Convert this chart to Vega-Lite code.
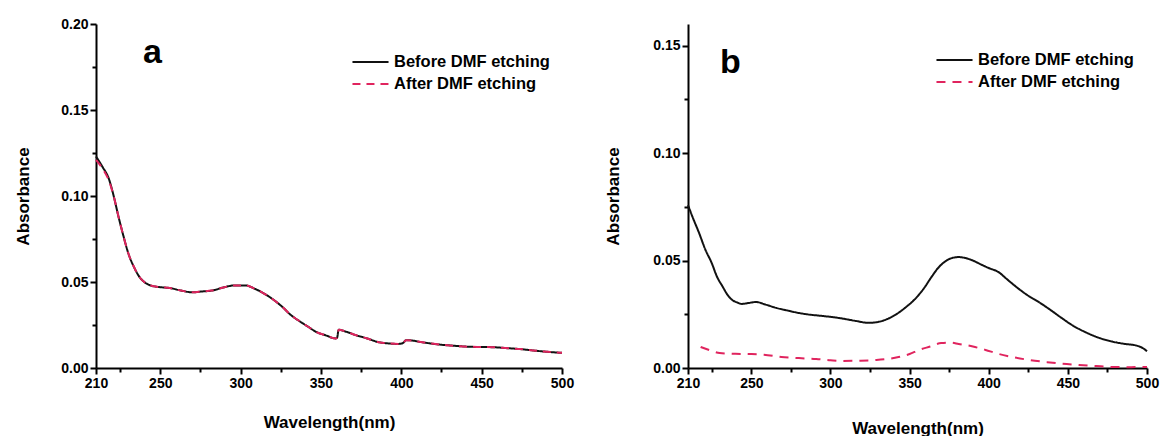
{
  "$schema": "https://vega.github.io/schema/vega-lite/v6.json",
  "background": "white",
  "padding": {"left": 14, "top": 17, "right": 5, "bottom": 0},
  "spacing": 30,
  "config": {
    "font": "Liberation Sans",
    "view": {"stroke": null},
    "axis": {
      "domainColor": "black", "domainWidth": 2, "tickColor": "black", "tickWidth": 2,
      "labelFont": "Liberation Sans", "labelFontWeight": "bold", "labelFontSize": 14, "labelColor": "black",
      "titleFont": "Liberation Sans", "titleFontWeight": "bold", "titleFontSize": 17, "titleColor": "black",
      "grid": false, "labelOverlap": false, "labelFlush": false
    },
    "legend": {
      "orient": "none", "title": null, "labelFont": "Liberation Sans", "labelFontSize": 16.5, "labelFontWeight": "bold",
      "labelColor": "black", "symbolType": "stroke", "symbolSize": 1300, "symbolStrokeWidth": 2,
      "rowPadding": 5, "labelOffset": 4, "clipHeight": 16
    },
    "title": {"anchor": "start", "frame": "group", "fontSize": 34, "fontWeight": "bold", "font": "Liberation Sans", "color": "black"}
  },
  "datasets": {
    "a": [
      {"w":210,"A":0.123,"s":"Before DMF etching"},{"w":214,"A":0.117,"s":"Before DMF etching"},{"w":218,"A":0.110,"s":"Before DMF etching"},{"w":221,"A":0.100,"s":"Before DMF etching"},{"w":224,"A":0.088,"s":"Before DMF etching"},{"w":227,"A":0.077,"s":"Before DMF etching"},{"w":230,"A":0.067,"s":"Before DMF etching"},{"w":234,"A":0.058,"s":"Before DMF etching"},{"w":237,"A":0.053,"s":"Before DMF etching"},{"w":240,"A":0.050,"s":"Before DMF etching"},{"w":244,"A":0.048,"s":"Before DMF etching"},{"w":250,"A":0.047,"s":"Before DMF etching"},{"w":256,"A":0.0465,"s":"Before DMF etching"},{"w":263,"A":0.045,"s":"Before DMF etching"},{"w":270,"A":0.044,"s":"Before DMF etching"},{"w":276,"A":0.0445,"s":"Before DMF etching"},{"w":282,"A":0.045,"s":"Before DMF etching"},{"w":290,"A":0.047,"s":"Before DMF etching"},{"w":296,"A":0.048,"s":"Before DMF etching"},{"w":303,"A":0.048,"s":"Before DMF etching"},{"w":309,"A":0.046,"s":"Before DMF etching"},{"w":314,"A":0.0436,"s":"Before DMF etching"},{"w":320,"A":0.040,"s":"Before DMF etching"},{"w":326,"A":0.0355,"s":"Before DMF etching"},{"w":331,"A":0.031,"s":"Before DMF etching"},{"w":337,"A":0.027,"s":"Before DMF etching"},{"w":342,"A":0.024,"s":"Before DMF etching"},{"w":347,"A":0.021,"s":"Before DMF etching"},{"w":353,"A":0.019,"s":"Before DMF etching"},{"w":359,"A":0.0172,"s":"Before DMF etching"},{"w":360,"A":0.0175,"s":"Before DMF etching"},{"w":361,"A":0.0222,"s":"Before DMF etching"},{"w":366,"A":0.021,"s":"Before DMF etching"},{"w":372,"A":0.019,"s":"Before DMF etching"},{"w":378,"A":0.0174,"s":"Before DMF etching"},{"w":386,"A":0.015,"s":"Before DMF etching"},{"w":392,"A":0.0143,"s":"Before DMF etching"},{"w":398,"A":0.014,"s":"Before DMF etching"},{"w":401,"A":0.0145,"s":"Before DMF etching"},{"w":403,"A":0.0162,"s":"Before DMF etching"},{"w":408,"A":0.0158,"s":"Before DMF etching"},{"w":412,"A":0.0151,"s":"Before DMF etching"},{"w":418,"A":0.0143,"s":"Before DMF etching"},{"w":424,"A":0.0136,"s":"Before DMF etching"},{"w":432,"A":0.013,"s":"Before DMF etching"},{"w":441,"A":0.0124,"s":"Before DMF etching"},{"w":450,"A":0.0122,"s":"Before DMF etching"},{"w":457,"A":0.0121,"s":"Before DMF etching"},{"w":465,"A":0.0116,"s":"Before DMF etching"},{"w":474,"A":0.011,"s":"Before DMF etching"},{"w":482,"A":0.0102,"s":"Before DMF etching"},{"w":491,"A":0.0094,"s":"Before DMF etching"},{"w":500,"A":0.0088,"s":"Before DMF etching"},
      {"w":210,"A":0.121,"s":"After DMF etching"},{"w":214,"A":0.116,"s":"After DMF etching"},{"w":218,"A":0.109,"s":"After DMF etching"},{"w":221,"A":0.100,"s":"After DMF etching"},{"w":224,"A":0.088,"s":"After DMF etching"},{"w":227,"A":0.077,"s":"After DMF etching"},{"w":230,"A":0.067,"s":"After DMF etching"},{"w":234,"A":0.058,"s":"After DMF etching"},{"w":237,"A":0.053,"s":"After DMF etching"},{"w":240,"A":0.050,"s":"After DMF etching"},{"w":244,"A":0.048,"s":"After DMF etching"},{"w":250,"A":0.047,"s":"After DMF etching"},{"w":256,"A":0.0465,"s":"After DMF etching"},{"w":263,"A":0.045,"s":"After DMF etching"},{"w":270,"A":0.044,"s":"After DMF etching"},{"w":276,"A":0.0445,"s":"After DMF etching"},{"w":282,"A":0.045,"s":"After DMF etching"},{"w":290,"A":0.047,"s":"After DMF etching"},{"w":296,"A":0.048,"s":"After DMF etching"},{"w":303,"A":0.048,"s":"After DMF etching"},{"w":309,"A":0.046,"s":"After DMF etching"},{"w":314,"A":0.0436,"s":"After DMF etching"},{"w":320,"A":0.040,"s":"After DMF etching"},{"w":326,"A":0.0355,"s":"After DMF etching"},{"w":331,"A":0.031,"s":"After DMF etching"},{"w":337,"A":0.027,"s":"After DMF etching"},{"w":342,"A":0.024,"s":"After DMF etching"},{"w":347,"A":0.021,"s":"After DMF etching"},{"w":353,"A":0.019,"s":"After DMF etching"},{"w":359,"A":0.0172,"s":"After DMF etching"},{"w":360,"A":0.0175,"s":"After DMF etching"},{"w":361,"A":0.0222,"s":"After DMF etching"},{"w":366,"A":0.021,"s":"After DMF etching"},{"w":372,"A":0.019,"s":"After DMF etching"},{"w":378,"A":0.0174,"s":"After DMF etching"},{"w":386,"A":0.015,"s":"After DMF etching"},{"w":392,"A":0.0143,"s":"After DMF etching"},{"w":398,"A":0.014,"s":"After DMF etching"},{"w":401,"A":0.0145,"s":"After DMF etching"},{"w":403,"A":0.0162,"s":"After DMF etching"},{"w":408,"A":0.0158,"s":"After DMF etching"},{"w":412,"A":0.0151,"s":"After DMF etching"},{"w":418,"A":0.0143,"s":"After DMF etching"},{"w":424,"A":0.0136,"s":"After DMF etching"},{"w":432,"A":0.013,"s":"After DMF etching"},{"w":441,"A":0.0124,"s":"After DMF etching"},{"w":450,"A":0.0122,"s":"After DMF etching"},{"w":457,"A":0.0121,"s":"After DMF etching"},{"w":465,"A":0.0116,"s":"After DMF etching"},{"w":474,"A":0.011,"s":"After DMF etching"},{"w":482,"A":0.0102,"s":"After DMF etching"},{"w":491,"A":0.0094,"s":"After DMF etching"},{"w":500,"A":0.0088,"s":"After DMF etching"}
    ],
    "b": [
      {"w":210,"A":0.0758,"s":"Before DMF etching"},{"w":213,"A":0.070,"s":"Before DMF etching"},{"w":217,"A":0.0628,"s":"Before DMF etching"},{"w":221,"A":0.055,"s":"Before DMF etching"},{"w":225,"A":0.0488,"s":"Before DMF etching"},{"w":228,"A":0.043,"s":"Before DMF etching"},{"w":232,"A":0.0377,"s":"Before DMF etching"},{"w":235,"A":0.034,"s":"Before DMF etching"},{"w":238,"A":0.0316,"s":"Before DMF etching"},{"w":241,"A":0.0305,"s":"Before DMF etching"},{"w":244,"A":0.0298,"s":"Before DMF etching"},{"w":248,"A":0.0302,"s":"Before DMF etching"},{"w":253,"A":0.0307,"s":"Before DMF etching"},{"w":259,"A":0.0295,"s":"Before DMF etching"},{"w":266,"A":0.0279,"s":"Before DMF etching"},{"w":273,"A":0.0267,"s":"Before DMF etching"},{"w":280,"A":0.0256,"s":"Before DMF etching"},{"w":287,"A":0.0248,"s":"Before DMF etching"},{"w":295,"A":0.0242,"s":"Before DMF etching"},{"w":305,"A":0.0233,"s":"Before DMF etching"},{"w":316,"A":0.0219,"s":"Before DMF etching"},{"w":324,"A":0.021,"s":"Before DMF etching"},{"w":330,"A":0.0214,"s":"Before DMF etching"},{"w":336,"A":0.0228,"s":"Before DMF etching"},{"w":342,"A":0.0252,"s":"Before DMF etching"},{"w":348,"A":0.0285,"s":"Before DMF etching"},{"w":354,"A":0.0325,"s":"Before DMF etching"},{"w":359,"A":0.037,"s":"Before DMF etching"},{"w":364,"A":0.0425,"s":"Before DMF etching"},{"w":368,"A":0.0465,"s":"Before DMF etching"},{"w":373,"A":0.0498,"s":"Before DMF etching"},{"w":377,"A":0.0512,"s":"Before DMF etching"},{"w":381,"A":0.0516,"s":"Before DMF etching"},{"w":385,"A":0.0512,"s":"Before DMF etching"},{"w":390,"A":0.050,"s":"Before DMF etching"},{"w":395,"A":0.0482,"s":"Before DMF etching"},{"w":400,"A":0.0465,"s":"Before DMF etching"},{"w":406,"A":0.0447,"s":"Before DMF etching"},{"w":412,"A":0.041,"s":"Before DMF etching"},{"w":419,"A":0.0368,"s":"Before DMF etching"},{"w":425,"A":0.0336,"s":"Before DMF etching"},{"w":432,"A":0.0305,"s":"Before DMF etching"},{"w":439,"A":0.027,"s":"Before DMF etching"},{"w":446,"A":0.0233,"s":"Before DMF etching"},{"w":453,"A":0.0198,"s":"Before DMF etching"},{"w":461,"A":0.0167,"s":"Before DMF etching"},{"w":469,"A":0.0142,"s":"Before DMF etching"},{"w":478,"A":0.0123,"s":"Before DMF etching"},{"w":486,"A":0.0112,"s":"Before DMF etching"},{"w":493,"A":0.0105,"s":"Before DMF etching"},{"w":497,"A":0.0094,"s":"Before DMF etching"},{"w":500,"A":0.0078,"s":"Before DMF etching"},
      {"w":218,"A":0.0098,"s":"After DMF etching"},{"w":224,"A":0.0082,"s":"After DMF etching"},{"w":230,"A":0.007,"s":"After DMF etching"},{"w":240,"A":0.0066,"s":"After DMF etching"},{"w":249,"A":0.0065,"s":"After DMF etching"},{"w":258,"A":0.0062,"s":"After DMF etching"},{"w":269,"A":0.0051,"s":"After DMF etching"},{"w":280,"A":0.0046,"s":"After DMF etching"},{"w":291,"A":0.0042,"s":"After DMF etching"},{"w":300,"A":0.0036,"s":"After DMF etching"},{"w":307,"A":0.0033,"s":"After DMF etching"},{"w":318,"A":0.0034,"s":"After DMF etching"},{"w":329,"A":0.0037,"s":"After DMF etching"},{"w":337,"A":0.0043,"s":"After DMF etching"},{"w":343,"A":0.0051,"s":"After DMF etching"},{"w":350,"A":0.0065,"s":"After DMF etching"},{"w":356,"A":0.0084,"s":"After DMF etching"},{"w":363,"A":0.010,"s":"After DMF etching"},{"w":370,"A":0.0116,"s":"After DMF etching"},{"w":376,"A":0.0118,"s":"After DMF etching"},{"w":381,"A":0.0112,"s":"After DMF etching"},{"w":390,"A":0.010,"s":"After DMF etching"},{"w":398,"A":0.0084,"s":"After DMF etching"},{"w":406,"A":0.0066,"s":"After DMF etching"},{"w":415,"A":0.0051,"s":"After DMF etching"},{"w":425,"A":0.0038,"s":"After DMF etching"},{"w":436,"A":0.0028,"s":"After DMF etching"},{"w":446,"A":0.002,"s":"After DMF etching"},{"w":457,"A":0.0014,"s":"After DMF etching"},{"w":468,"A":0.0009,"s":"After DMF etching"},{"w":478,"A":0.0005,"s":"After DMF etching"},{"w":490,"A":0.0004,"s":"After DMF etching"},{"w":500,"A":0.0005,"s":"After DMF etching"}
    ]
  },
  "hconcat": [
    {
      "width": 466, "height": 344,
      "title": {"text": "a", "dx": 47, "dy": 57},
      "data": {"name": "a"},
      "mark": {"type": "line", "strokeWidth": 2, "interpolate": "monotone"},
      "encoding": {
        "x": {"field": "w", "type": "quantitative", "scale": {"domain": [210, 500], "nice": false, "zero": false},
          "axis": {"title": "Wavelength(nm)", "titlePadding": 24, "values": [210,225,250,275,300,325,350,375,400,425,450,475,500],
            "labelExpr": "(datum.value % 50 == 0 || datum.value == 210) ? datum.label : ''",
            "tickSize": {"condition": {"test": "datum.value % 50 == 0 || datum.value == 210", "value": 6}, "value": 4}}},
        "y": {"field": "A", "type": "quantitative", "scale": {"domain": [0, 0.2], "nice": false},
          "axis": {"title": "Absorbance", "titlePadding": 28, "format": ".2f", "values": [0,0.025,0.05,0.075,0.1,0.125,0.15,0.175,0.2],
            "labelExpr": "round(datum.value*1000) % 50 == 0 ? datum.label : ''",
            "tickSize": {"condition": {"test": "round(datum.value*1000) % 50 == 0", "value": 6}, "value": 4}}},
        "color": {"field": "s", "type": "nominal", "scale": {"domain": ["Before DMF etching", "After DMF etching"], "range": ["#111111", "#e0245e"]},
          "legend": {"legendX": 255, "legendY": 30}},
        "strokeDash": {"field": "s", "type": "nominal", "scale": {"domain": ["Before DMF etching", "After DMF etching"], "range": [[1, 0], [8, 6]]},
          "legend": {"legendX": 255, "legendY": 30}}
      }
    },
    {
      "width": 459, "height": 344,
      "title": {"text": "b", "dx": 32, "dy": 60},
      "data": {"name": "b"},
      "mark": {"type": "line", "strokeWidth": 2, "interpolate": "monotone"},
      "encoding": {
        "x": {"field": "w", "type": "quantitative", "scale": {"domain": [210, 500], "nice": false, "zero": false},
          "axis": {"title": "Wavelength(nm)", "titlePadding": 30, "values": [210,225,250,275,300,325,350,375,400,425,450,475,500],
            "labelExpr": "(datum.value % 50 == 0 || datum.value == 210) ? datum.label : ''",
            "tickSize": {"condition": {"test": "datum.value % 50 == 0 || datum.value == 210", "value": 6}, "value": 4}}},
        "y": {"field": "A", "type": "quantitative", "scale": {"domain": [0, 0.16], "nice": false},
          "axis": {"title": "Absorbance", "titlePadding": 30, "format": ".2f", "values": [0,0.025,0.05,0.075,0.1,0.125,0.15],
            "labelExpr": "round(datum.value*1000) % 50 == 0 ? datum.label : ''",
            "tickSize": {"condition": {"test": "round(datum.value*1000) % 50 == 0", "value": 6}, "value": 4}}},
        "color": {"field": "s", "type": "nominal", "scale": {"domain": ["Before DMF etching", "After DMF etching"], "range": ["#111111", "#e0245e"]},
          "legend": {"legendX": 247, "legendY": 28}},
        "strokeDash": {"field": "s", "type": "nominal", "scale": {"domain": ["Before DMF etching", "After DMF etching"], "range": [[1, 0], [9, 7]]},
          "legend": {"legendX": 247, "legendY": 28}}
      }
    }
  ],
  "resolve": {"scale": {"color": "independent", "strokeDash": "independent", "x": "independent", "y": "independent"}}
}
